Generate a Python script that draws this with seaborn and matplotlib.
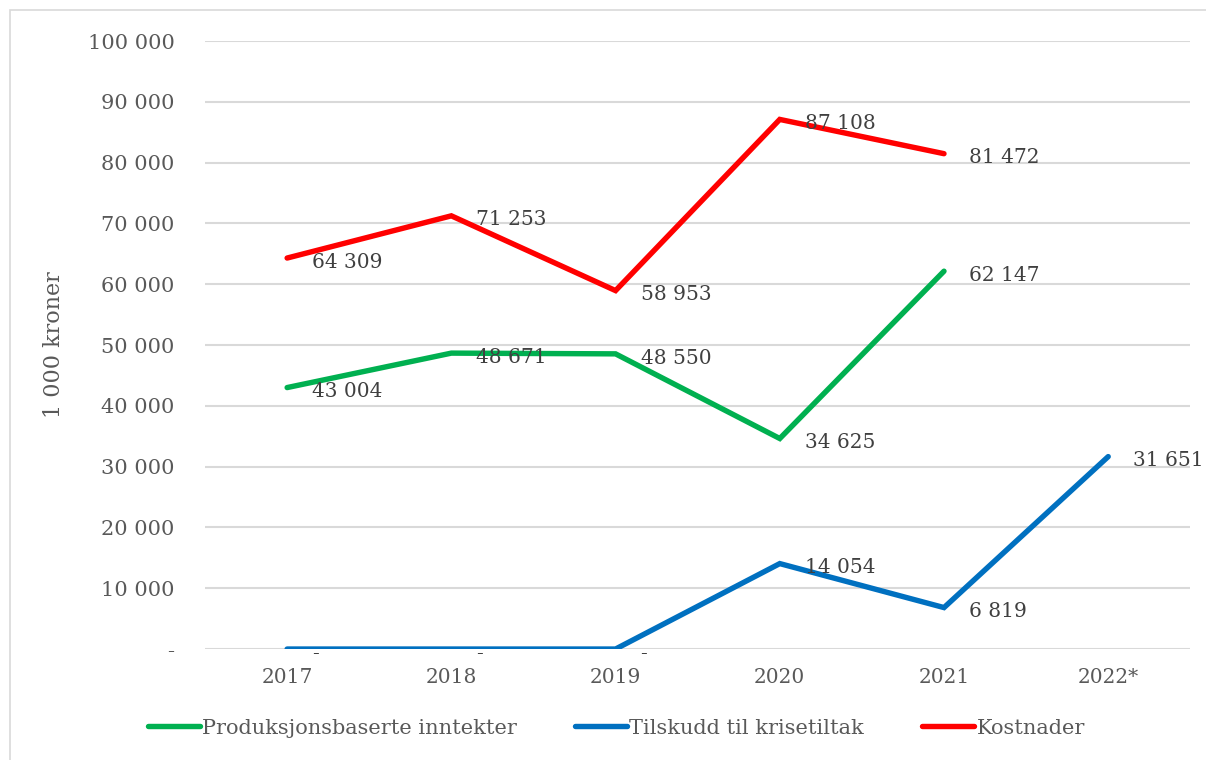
import matplotlib
matplotlib.use("Agg")
import matplotlib.pyplot as plt
import matplotlib.patches as mpatches
import numpy as np
import pandas as pd
import seaborn as sns

years = ["2017", "2018", "2019", "2020", "2021", "2022*"]
produksjon = [43004, 48671, 48550, 34625, 62147, np.nan]
tilskudd = [0, 0, 0, 14054, 6819, 31651]
kostnader = [64309, 71253, 58953, 87108, 81472, np.nan]

series_names = ["Produksjonsbaserte inntekter", "Tilskudd til krisetiltak", "Kostnader"]
series_colors = ["#00B050", "#0070C0", "#FF0000"]

wide = pd.DataFrame({"År": years,
                     series_names[0]: produksjon,
                     series_names[1]: tilskudd,
                     series_names[2]: kostnader})
df = wide.melt(id_vars="År", var_name="Serie", value_name="Verdi").dropna()

sns.set_style("white")
plt.rcParams["font.family"] = ["DejaVu Serif"]

fig = plt.figure(figsize=(12.06, 7.6), dpi=100)
ax = fig.add_axes([0.170, 0.146, 0.817, 0.800])

sns.lineplot(data=df, x="År", y="Verdi", hue="Serie", hue_order=series_names,
             palette=series_colors, linewidth=3.9, sort=False, ax=ax)
for line in ax.lines:
    line.set_solid_capstyle("round")
    line.set_solid_joinstyle("miter")

def fmt(v):
    if v == 0:
        return "-"
    return f"{int(v):,}".replace(",", " ")

for vals in [produksjon, tilskudd, kostnader]:
    for i, v in enumerate(vals):
        if np.isnan(v):
            continue
        ax.annotate(fmt(v), xy=(i, v), xytext=(18, -3), textcoords="offset points",
                    ha="left", va="center", fontsize=14.5, color="#404040")

ax.set_xlim(-0.5, len(years) - 0.5)
ax.set_ylim(0, 100000)
yt = np.arange(0, 100001, 10000)
ax.set_yticks(yt)
ax.set_yticklabels([fmt(t) for t in yt])
ax.set_xticks(range(len(years)))
ax.set_xticklabels(years)
ax.tick_params(axis="y", length=0, pad=22, labelsize=15, labelcolor="#595959")
ax.tick_params(axis="x", length=0, pad=14, labelsize=14.5, labelcolor="#595959")
ax.grid(axis="y", color="#D9D9D9", linewidth=1.5)
ax.set_axisbelow(True)
for s in ax.spines.values():
    s.set_visible(False)
ax.set_xlabel("")
ax.set_ylabel("1 000 kroner", fontsize=16, color="#595959", labelpad=16)

handles = [plt.Line2D([], [], color=c, linewidth=3.9, solid_capstyle="round") for c in series_colors]
ax.get_legend().remove()
fig.legend(handles, series_names, loc="center", bbox_to_anchor=(0.511, 0.042), ncol=3,
           frameon=False, fontsize=15, handlelength=2.5, handletextpad=0.1,
           columnspacing=2.8, labelcolor="#595959")

fig.patches.append(mpatches.Rectangle((0.008, -0.01), 1.1, 0.997, transform=fig.transFigure,
                                      fill=False, edgecolor="#D9D9D9", linewidth=1.2))

fig.savefig("out.png", dpi=100)
